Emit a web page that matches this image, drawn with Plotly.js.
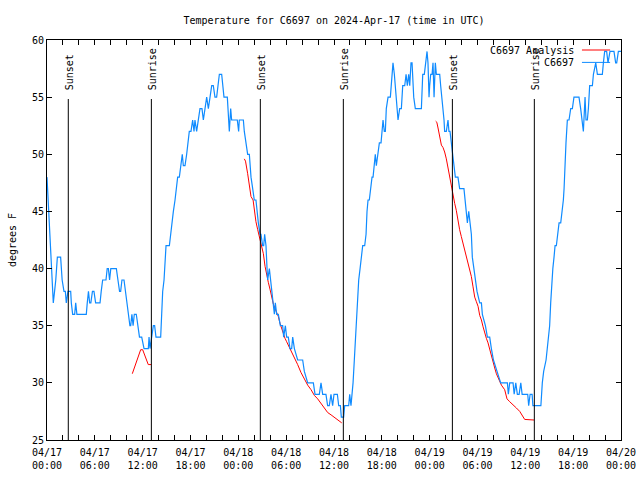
<!DOCTYPE html>
<html>
<head>
<meta charset="utf-8">
<script src="https://cdn.plot.ly/plotly-3.0.1.min.js"></script>
<style>html,body{margin:0;padding:0;background:#fff;}#chart{width:640px;height:480px;}</style>
</head>
<body>
<div id="chart"></div>
<script>
// Hours after 2024-04-17 00:00 UTC
const obsHours = [0.00,0.15,0.30,0.45,0.60,0.70,0.79,0.95,1.10,1.30,1.71,1.90,2.13,2.30,2.42,2.63,2.97,3.05,3.22,3.47,3.60,3.75,4.93,5.05,5.20,5.35,5.50,5.70,5.89,6.10,6.65,6.80,6.98,7.40,7.55,7.70,7.85,8.00,8.70,8.90,9.10,9.24,9.40,9.66,9.85,10.00,10.20,10.40,10.50,10.65,10.80,10.95,11.20,11.40,11.60,11.88,12.17,12.71,12.80,12.92,13.13,13.34,13.50,13.67,14.26,14.39,14.51,14.68,14.81,14.93,15.35,15.51,15.64,15.85,16.06,16.27,16.39,16.60,16.81,16.97,17.10,17.31,17.52,17.73,17.85,18.06,18.27,18.44,18.56,18.77,18.98,19.19,19.44,19.61,19.82,20.03,20.24,20.45,20.66,20.86,21.07,21.28,21.49,21.62,21.91,22.03,22.20,22.62,22.74,22.87,23.04,23.16,23.87,24.04,24.12,24.63,24.75,24.96,25.17,25.38,25.59,25.80,26.00,26.21,26.34,26.51,26.72,26.84,27.05,27.18,27.30,27.47,27.60,27.68,27.89,28.05,28.18,28.39,28.52,28.64,28.81,29.02,29.27,29.56,29.69,29.90,30.06,30.27,30.48,30.69,30.82,31.03,31.44,32.07,32.28,32.70,33.41,33.62,34.16,34.37,34.58,34.99,35.20,35.41,35.62,35.83,36.00,36.42,36.59,36.80,36.92,37.21,37.34,37.84,37.97,38.13,38.26,38.39,38.55,38.68,38.85,38.97,39.10,39.27,39.43,39.60,39.85,40.02,40.14,40.27,40.43,40.56,40.77,40.90,41.06,41.18,41.31,41.48,41.69,41.90,42.02,42.15,42.31,42.44,42.56,42.78,43.07,43.28,43.40,43.57,43.70,43.91,44.03,44.24,44.45,44.62,44.87,45.04,45.20,45.37,45.50,45.66,45.79,46.00,46.20,46.96,47.13,47.33,47.54,47.67,47.79,47.92,48.00,48.13,48.30,48.42,48.55,48.71,48.84,49.26,49.38,49.55,49.67,49.80,49.88,50.09,50.30,50.42,50.55,50.72,50.93,51.05,51.22,51.55,51.76,52.30,52.47,52.60,52.73,52.90,53.10,53.23,53.35,53.56,53.73,53.94,54.28,54.49,54.61,54.99,55.24,55.53,55.74,56.00,56.45,56.91,57.75,57.87,58.04,58.46,58.60,58.80,59.00,59.22,59.43,59.60,60.30,60.42,60.60,60.85,60.95,61.95,62.13,62.30,62.60,62.76,62.90,63.05,63.18,63.30,63.45,63.60,63.73,63.89,64.02,64.23,64.44,64.65,64.77,64.86,64.98,65.10,65.27,65.48,65.69,65.90,66.10,66.73,66.94,67.07,67.28,67.49,67.61,67.78,67.91,68.07,68.41,68.54,68.83,69.04,69.66,69.79,69.95,70.20,70.37,70.62,71.12,71.33,71.46,71.67,72.00];
const obsTemp = [48,46,44,41,39,38,37,38,39,41,41,39,38,38,37,38,38,37,36,36,37,36,36,37,38,37,37,38,38,37,37,38,39,39,40,40,39,40,40,39,38,38,39,39,38,37,36,35,35,36,35,36,36,35,34,34,33,33,34,33,34,35,35,34,34,36,38,39,41,42,42,43,44,45,46,47,48,48,49,50,49,49,50,51,52,52,53,52,53,52,53,54,54,53,54,55,54,55,56,56,55,55,56,57,57,56,55,55,53,52,54,53,53,52,53,53,52,51,50,50,48,47,46,46,45,44,43,43,42,42,43,42,40,39,40,39,38,37,36,37,36,36,35,35,34,35,34,34,33,33,34,33,32,32,31,30,30,29,29,30,29,29,28,28,29,28,29,29,28,28,27,27,28,28,29,28,29,30,32,34,36,37,39,40,41,42,42,43,45,46,46,47,48,48,49,50,49,50,51,51,52,53,52,52,54,55,55,57,58,57,56,54,53,54,54,56,56,57,56,57,56,58,58,55,54,54,57,57,58,59,58,55,56,57,57,58,55,58,57,57,56,55,54,53,52,52,53,52,52,51,50,49,48,48,47,47,46,45,44,45,44,43,41,40,39,38,37,37,36,35,34,34,33,32,31,30,30,29,30,30,29,30,29,29,30,29,29,28,29,29,28,28,30,31,32,33,34,35,37,39,40,41,42,42,43,44,44,45,46,47,50,51,53,53,54,54,55,55,54,53,52,55,53,53,54,56,56,57,58,57,57,58,59,59,58,59,59,58,58,59,59];

// Analysis segments, separated by null
const anaHours = [10.70,10.95,11.20,11.45,11.75,12.00,12.20,12.45,12.70,13.05,null,
  24.75,24.90,25.17,25.38,25.59,25.85,26.00,26.21,26.43,26.72,26.93,27.14,27.35,27.56,27.76,27.97,28.18,28.39,28.60,28.81,29.02,29.23,29.44,29.65,29.85,30.06,30.27,30.55,30.82,31.10,31.44,31.86,32.28,32.70,33.12,33.54,33.95,34.37,34.79,35.21,35.63,36.00,36.33,36.97,null,
  48.75,48.90,49.05,49.26,49.47,49.67,49.88,50.09,50.30,50.51,50.72,50.93,51.14,51.34,51.55,51.76,51.97,52.18,52.39,52.60,52.81,53.02,53.23,53.44,53.65,53.86,54.07,54.28,54.49,54.70,54.90,55.11,55.32,55.53,55.74,55.95,56.16,56.37,56.58,56.79,57.00,57.41,57.70,58.04,58.46,58.88,59.30,59.72,59.92,61.09];
const anaTemp = [30.8,31.3,31.9,32.4,32.9,32.9,32.5,32.0,31.6,31.6,null,
  49.6,49.4,48.3,47.3,46.3,46.0,45.1,44.1,43.4,42.5,41.8,41.3,40.2,39.4,38.8,38.2,37.5,36.9,36.5,36.2,35.8,35.2,34.7,34.3,33.9,33.6,33.3,33.0,32.6,32.1,31.6,30.9,30.3,29.8,29.4,28.9,28.6,28.2,27.9,27.4,27.2,27.0,26.8,26.5,null,
  52.9,52.8,52.3,51.5,50.8,50.6,50.2,49.6,48.8,47.8,47.0,46.3,45.7,45.1,44.1,43.4,42.8,42.2,41.8,41.0,40.5,39.9,39.3,38.4,37.5,37.1,36.7,35.9,35.5,34.9,34.3,33.9,33.5,32.9,32.3,31.7,31.3,30.8,30.5,30.1,29.8,29.4,28.6,28.35,28.1,27.8,27.5,27.0,26.8,26.75];

const sunsetHours = [2.67, 26.76, 50.85];
const sunriseHours = [13.09, 37.17, 61.13];

const base = Date.UTC(2024, 3, 17);
function toDate(h) {
  if (h === null) return null;
  const d = new Date(base + Math.round(h * 3600000));
  return d.toISOString().slice(0, 19).replace('T', ' ');
}

const FONT = 'DejaVu Sans Mono, Liberation Mono, monospace';

const traces = [
  {x: anaHours.map(toDate), y: anaTemp, type: 'scatter', mode: 'lines', name: 'C6697 Analysis',
   line: {color: '#ff0000', width: 1}, connectgaps: false},
  {x: obsHours.map(toDate), y: obsTemp, type: 'scatter', mode: 'lines', name: 'C6697',
   line: {color: '#0f8bff', width: 1.2}}
];

const shapes = [];
const annotations = [];
function addSun(list, label) {
  list.forEach(t => {
    shapes.push({type: 'line', xref: 'x', yref: 'paper', x0: toDate(t), x1: toDate(t), y0: 0, y1: 0.8525,
                 line: {color: '#000', width: 1}});
    annotations.push({xref: 'x', yref: 'paper', x: toDate(t), y: 0.87, xanchor: 'center', yanchor: 'bottom',
                      text: label, textangle: -90, showarrow: false, xshift: 1,
                      font: {family: FONT, size: 10, color: '#000'}});
  });
}
addSun(sunsetHours, 'Sunset');
addSun(sunriseHours, 'Sunrise');

// gnuplot-style key (text left of sample line)
const keyItems = [{name: 'C6697 Analysis', color: '#ff0000', y: 0.975}, {name: 'C6697', color: '#0f8bff', y: 0.944}];
keyItems.forEach(k => {
  annotations.push({xref: 'paper', yref: 'paper', x: 0.921, y: k.y, xanchor: 'right', yanchor: 'middle',
                    text: k.name, showarrow: false, font: {family: FONT, size: 10, color: '#000'}});
  shapes.push({type: 'line', xref: 'paper', yref: 'paper', x0: 0.932, x1: 0.981, y0: k.y, y1: k.y,
               line: {color: k.color, width: 1}});
});

const layout = {
  width: 640, height: 480,
  margin: {l: 47, r: 19, t: 40, b: 40},
  paper_bgcolor: '#fff', plot_bgcolor: '#fff',
  font: {family: FONT, size: 10, color: '#000'},
  showlegend: false,
  title: {text: 'Temperature for C6697 on 2024-Apr-17 (time in UTC)', x: 0.5, xref: 'paper', xanchor: 'center',
          y: 1 - 20 / 480, yref: 'container', yanchor: 'middle', font: {family: FONT, size: 10, color: '#000'}},
  xaxis: {type: 'date', range: [toDate(0), toDate(72)], tick0: toDate(0), dtick: 6 * 3600000,
          tickformat: '%m/%d<br>%H:%M', ticks: 'inside', ticklen: 5, tickcolor: '#000', tickwidth: 1,
          mirror: 'ticks', showline: true, linecolor: '#000', linewidth: 1, showgrid: false, zeroline: false,
          ticklabelstandoff: 3,
          minor: {dtick: 2 * 3600000, tick0: toDate(0), ticks: 'inside', ticklen: 5, tickcolor: '#000', showgrid: false},
          tickfont: {family: FONT, size: 10, color: '#000'}, automargin: false},
  yaxis: {range: [25, 60], dtick: 5, ticks: 'inside', ticklen: 5, tickcolor: '#000', tickwidth: 1,
          mirror: 'ticks', showline: true, linecolor: '#000', linewidth: 1, showgrid: false, zeroline: false,
          tickfont: {family: FONT, size: 10, color: '#000'}, automargin: false,
          title: {text: 'degrees F', standoff: 13, font: {family: FONT, size: 10, color: '#000'}}},
  shapes: shapes,
  annotations: annotations
};

Plotly.newPlot('chart', traces, layout, {displayModeBar: false, staticPlot: true});
</script>
</body>
</html>
